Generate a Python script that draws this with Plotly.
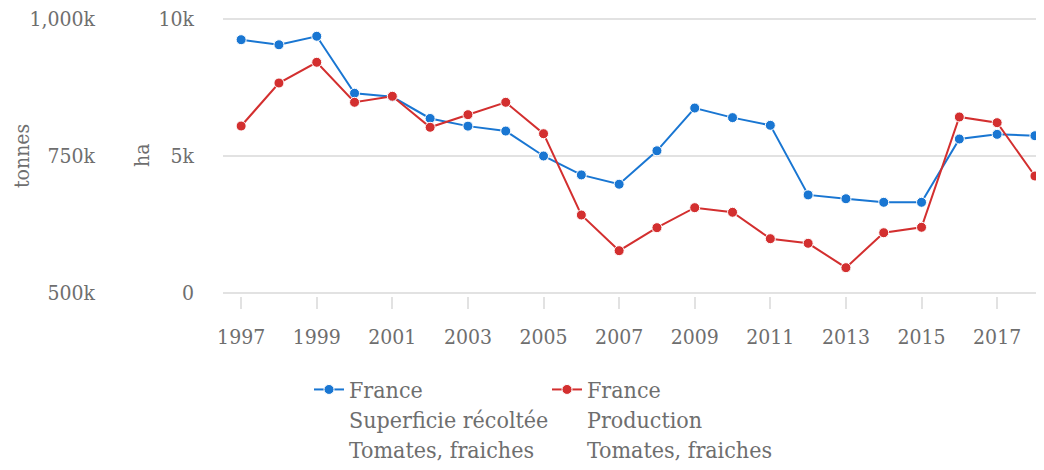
import plotly.graph_objects as go

years = list(range(1997, 2019))

# Superficie récoltée (ha)
superficie_ha = [9245, 9060, 9370, 7290, 7160, 6370, 6090, 5910, 5000, 4310, 3970,
                 5190, 6750, 6400, 6120, 3580, 3440, 3310, 3310, 5620, 5790, 5740]

# Production (tonnes)
production_t = [804700, 883200, 921000, 848000, 859000, 802400, 825400, 848000, 790700,
                642300, 577200, 619200, 655700, 647300, 599100, 590700, 546200, 610000,
                619900, 821200, 810800, 713500]

ha_ticks = [0, 5000, 10000]
ha_labels = ['0', '5k', '10k']
t_ticks = [500000, 750000, 1000000]
t_labels = ['500k', '750k', '1,000k']

FONT = 'DejaVu Serif Condensed, DejaVu Serif, serif'
GREY = '#6e6e6e'
GRID = '#e2e2e2'

# the page puts the plot 8px in from the corner; keep the page inside the window
OFF = 8
W, H = 1044 - OFF, 470 - 2 * OFF
left_px = 223 - OFF
# plot area runs 3px past the 10k / 0 grid lines so they are not dropped at the edges
top_px, bot_px = 16 - OFF, 296 - OFF
pad_ha = 3 * 10000 / 274
pad_t = 3 * 500000 / 274

fig = go.Figure()

fig.add_trace(go.Scatter(
    x=years, y=superficie_ha,
    name='France<br>Superficie récoltée<br>Tomates, fraiches',
    mode='lines+markers',
    line=dict(color='#1976d2', width=2),
    marker=dict(size=10, color='#1976d2', line=dict(color='white', width=1)),
    yaxis='y'
))

fig.add_trace(go.Scatter(
    x=years, y=production_t,
    name='France<br>Production<br>Tomates, fraiches',
    mode='lines+markers',
    line=dict(color='#d32f2f', width=2),
    marker=dict(size=10, color='#d32f2f', line=dict(color='white', width=1)),
    yaxis='y2'
))

fig.update_layout(
    width=W, height=H,
    margin=dict(l=0, r=0, t=0, b=0, autoexpand=False),
    paper_bgcolor='white',
    plot_bgcolor='white',
    font=dict(family=FONT, size=21, color=GREY),
    xaxis=dict(
        domain=[left_px / W, 1],
        range=[1996.52, 2018.24],
        tickmode='linear', tick0=1997, dtick=2,
        ticks='outside', ticklen=12, tickwidth=2, tickcolor=GRID,
        ticklabelstandoff=10,
        showgrid=False, zeroline=False, showline=False,
        automargin=False,
    ),
    yaxis=dict(
        domain=[(H - bot_px) / H, (H - top_px) / H],
        range=[-pad_ha, 10000 + pad_ha],
        tickvals=ha_ticks, ticktext=ha_labels,
        showgrid=True, gridcolor=GRID, gridwidth=2,
        zeroline=False, showline=False,
        ticklabelstandoff=28,
        ticklabeloverflow='allow',
        automargin=False,
    ),
    yaxis2=dict(
        overlaying='y', anchor='free', side='left',
        position=left_px / W,
        range=[500000 - pad_t, 1000000 + pad_t],
        tickvals=t_ticks, ticktext=t_labels,
        showgrid=False, zeroline=False, showline=False,
        ticklabelstandoff=128,
        ticklabeloverflow='allow',
        automargin=False,
    ),
    legend=dict(
        orientation='h',
        x=(309 - OFF) / W, xanchor='left',
        y=(H - (368 - OFF)) / H, yanchor='top',
        valign='top',
        entrywidth=193,
        font=dict(family=FONT, size=23, color=GREY),
    ),
    showlegend=True,
)

fig.add_annotation(text='ha', x=(142 - OFF) / W, y=(H - (156 - OFF)) / H,
                   xref='paper', yref='paper', xanchor='center', yanchor='middle',
                   textangle=-90, showarrow=False, font=dict(size=21, color=GREY))
fig.add_annotation(text='tonnes', x=0, y=(H - (156 - OFF)) / H,
                   xref='paper', yref='paper', xanchor='left', yanchor='middle',
                   textangle=-90, showarrow=False, font=dict(size=21, color=GREY))

fig.write_html("out.html")
